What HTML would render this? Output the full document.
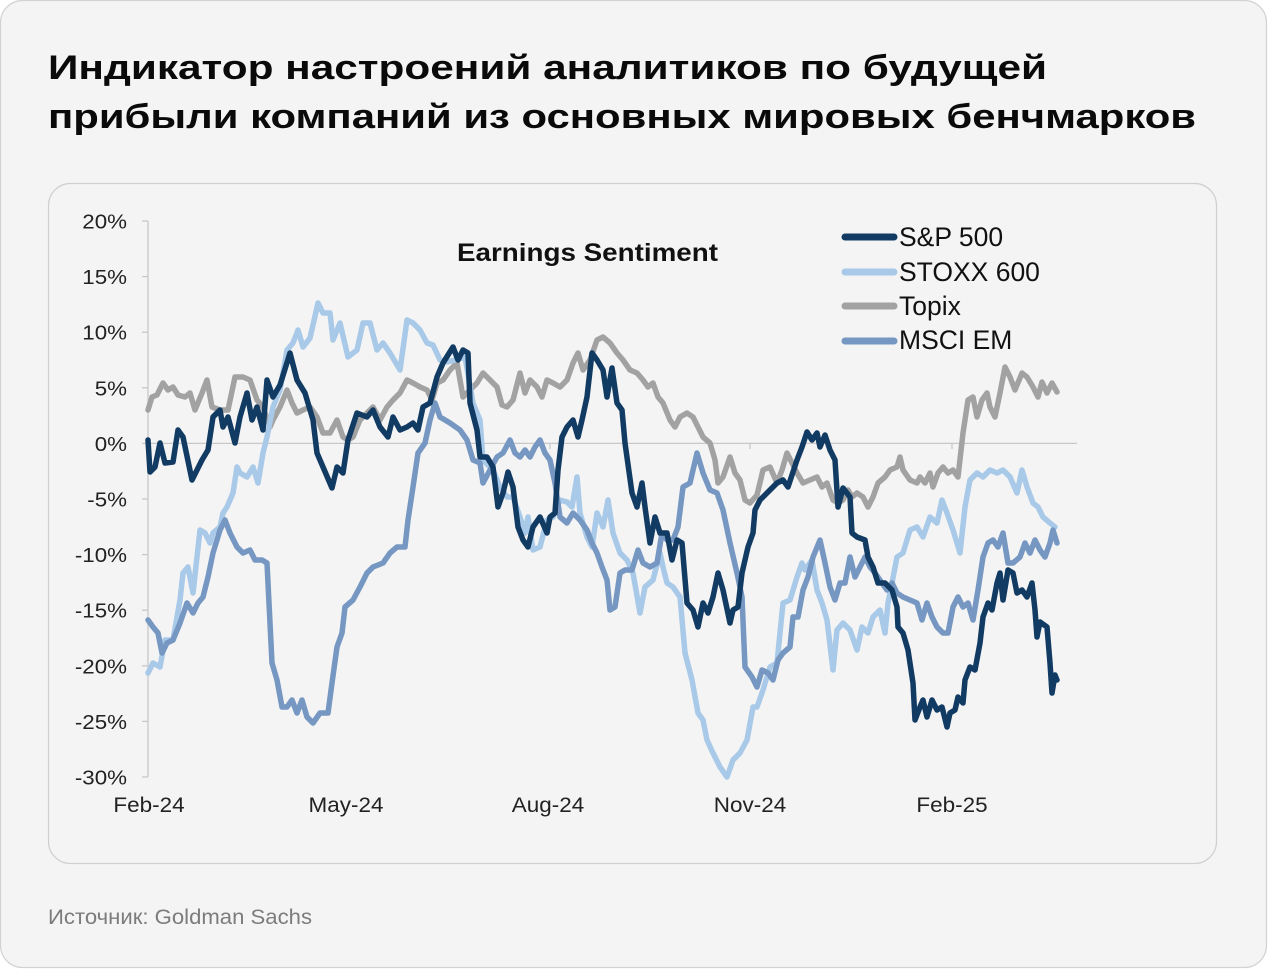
<!DOCTYPE html>
<html>
<head>
<meta charset="utf-8">
<style>
  html, body { margin: 0; padding: 0; background: #ffffff; }
  svg { display: block; }
  text { font-family: "Liberation Sans", "Noto Sans CJK SC", sans-serif; }
</style>
</head>
<body>
<svg width="1268" height="969" viewBox="0 0 1268 969" xmlns="http://www.w3.org/2000/svg">
  <!-- outer card -->
  <rect x="0.5" y="0.5" width="1266" height="967" rx="22" ry="22" fill="#f4f4f4" stroke="#d2d2d2" stroke-width="1.2"/>

  <!-- title -->
  <text x="48" y="79" font-size="34" font-weight="bold" fill="#0a0a0a" textLength="999" lengthAdjust="spacingAndGlyphs">Индикатор настроений аналитиков по будущей</text>
  <text x="48" y="128" font-size="34" font-weight="bold" fill="#0a0a0a" textLength="1148" lengthAdjust="spacingAndGlyphs">прибыли компаний из основных мировых бенчмарков</text>

  <!-- inner chart card -->
  <rect x="48.5" y="183.5" width="1168" height="680" rx="22" ry="22" fill="#f4f4f4" stroke="#cfcfcf" stroke-width="1.2"/>

  <!-- axes -->
  <g stroke="#c8c8c8" stroke-width="1.3" fill="none">
    <line x1="148" y1="221" x2="148" y2="777"/>
    <line x1="142" y1="221" x2="148" y2="221"/>
    <line x1="142" y1="276.6" x2="148" y2="276.6"/>
    <line x1="142" y1="332.2" x2="148" y2="332.2"/>
    <line x1="142" y1="387.8" x2="148" y2="387.8"/>
    <line x1="142" y1="443.4" x2="148" y2="443.4"/>
    <line x1="142" y1="499" x2="148" y2="499"/>
    <line x1="142" y1="554.6" x2="148" y2="554.6"/>
    <line x1="142" y1="610.2" x2="148" y2="610.2"/>
    <line x1="142" y1="665.8" x2="148" y2="665.8"/>
    <line x1="142" y1="721.4" x2="148" y2="721.4"/>
    <line x1="142" y1="777" x2="148" y2="777"/>
    <line x1="148" y1="443.4" x2="1077" y2="443.4"/>
    <line x1="349" y1="443.4" x2="349" y2="449"/>
    <line x1="550" y1="443.4" x2="550" y2="449"/>
    <line x1="750" y1="443.4" x2="750" y2="449"/>
    <line x1="952" y1="443.4" x2="952" y2="449"/>
  </g>

  <!-- y labels -->
  <g font-size="20.5" fill="#222" text-anchor="end">
    <g transform="translate(127,0) scale(1.09,1)">
      <text x="0" y="228.5">20%</text>
      <text x="0" y="284.1">15%</text>
      <text x="0" y="339.7">10%</text>
      <text x="0" y="395.3">5%</text>
      <text x="0" y="450.9">0%</text>
      <text x="0" y="506.5">-5%</text>
      <text x="0" y="562.1">-10%</text>
      <text x="0" y="617.7">-15%</text>
      <text x="0" y="673.3">-20%</text>
      <text x="0" y="728.9">-25%</text>
      <text x="0" y="784.5">-30%</text>
    </g>
  </g>

  <!-- x labels -->
  <g font-size="21" fill="#222" text-anchor="middle">
    <g transform="translate(149,812) scale(1.07,1)"><text x="0" y="0">Feb-24</text></g>
    <g transform="translate(346,812) scale(1.07,1)"><text x="0" y="0">May-24</text></g>
    <g transform="translate(548,812) scale(1.07,1)"><text x="0" y="0">Aug-24</text></g>
    <g transform="translate(750,812) scale(1.07,1)"><text x="0" y="0">Nov-24</text></g>
    <g transform="translate(952,812) scale(1.07,1)"><text x="0" y="0">Feb-25</text></g>
  </g>

  <!-- chart title -->
  <text x="457" y="261" font-size="25" font-weight="bold" fill="#111" textLength="261" lengthAdjust="spacingAndGlyphs">Earnings Sentiment</text>

  <!-- series -->
  <g fill="none" stroke-width="5.5" stroke-linejoin="round" stroke-linecap="round">
    <!-- Topix -->
    <polyline stroke="#a2a2a2" points="148,410 152,397 157,395 163,383 168,390 173,387 178,395 185,397 190,393 195,410 202,393 207,380 212,407 220,410 228,410 235,377 243,377 250,380 257,400 263,407 270,427 273,420 280,407 287,390 292,403 297,413 303,410 310,407 317,417 323,433 330,433 337,420 343,437 348,440 353,437 360,420 367,413 373,407 380,420 387,407 393,400 400,393 407,380 413,383 420,387 427,390 432,400 437,383 443,380 450,370 457,363 463,397 470,390 477,383 483,373 490,380 497,387 502,405 507,407 513,400 520,373 525,393 530,380 537,387 542,397 547,380 553,383 560,387 567,380 573,363 578,353 583,370 590,360 597,340 603,337 610,343 617,353 623,360 630,370 637,373 643,380 648,387 653,383 658,397 663,403 670,420 675,427 680,417 687,413 693,417 698,427 703,437 710,443 715,460 718,483 723,477 730,457 735,473 740,480 745,500 750,503 757,495 763,470 770,467 777,483 782,470 787,453 792,463 797,473 803,483 810,480 817,477 822,487 827,483 833,500 838,503 843,500 848,490 852,497 857,493 863,497 868,507 873,497 878,483 885,477 890,470 897,467 900,457 903,470 910,480 917,483 920,477 925,483 930,473 933,487 938,473 943,467 948,473 953,470 958,477 963,433 968,400 973,397 977,417 982,400 987,393 990,407 995,417 1000,393 1005,367 1010,377 1015,390 1022,373 1027,377 1033,387 1038,397 1042,382 1047,393 1052,383 1057,392"/>
    <!-- STOXX 600 -->
    <polyline stroke="#a9c9e8" points="148,673 153,663 160,667 165,640 173,640 180,600 183,573 188,567 193,593 200,530 205,533 210,543 213,533 220,527 223,513 227,507 233,493 237,467 240,473 247,477 253,467 258,483 263,453 267,437 273,407 280,390 287,350 293,343 298,330 303,347 310,338 318,303 323,313 330,313 333,340 340,323 348,357 357,350 363,323 370,323 377,350 383,343 390,353 400,370 407,320 413,323 420,330 427,343 433,345 440,360 447,362 455,360 465,357 473,403 480,420 483,460 493,470 500,487 507,497 513,497 520,517 525,533 528,517 533,550 540,547 547,520 553,517 560,500 567,502 572,507 577,477 580,513 587,537 592,547 597,513 603,527 608,500 613,533 620,553 627,560 633,573 640,613 645,587 653,580 660,553 663,567 667,583 673,587 680,597 685,653 692,680 698,713 703,720 707,740 713,753 720,767 727,777 733,760 740,753 747,740 753,707 757,707 763,690 770,667 777,663 783,603 790,600 797,577 802,563 805,570 812,560 817,590 822,603 827,620 833,670 837,630 843,623 850,630 857,650 862,627 868,633 873,617 880,610 885,633 888,603 892,583 897,557 903,553 910,530 917,527 923,537 930,517 937,523 942,500 947,513 953,530 960,553 965,507 970,480 977,473 983,477 990,470 997,473 1003,470 1010,477 1017,493 1022,470 1027,487 1033,503 1038,507 1043,517 1050,523 1055,527"/>
    <!-- MSCI EM -->
    <polyline stroke="#7597c1" points="148,620 153,627 158,633 162,653 167,643 173,640 180,623 187,603 193,613 198,603 203,597 208,577 213,553 220,530 225,520 230,533 237,547 243,553 250,550 255,560 262,560 267,563 272,663 277,680 282,707 287,707 292,700 297,713 302,700 307,717 313,723 320,713 328,713 332,683 337,647 342,633 345,607 353,600 360,587 367,573 373,567 383,563 390,553 397,547 405,547 408,520 413,487 418,453 425,443 430,420 435,403 440,417 450,423 460,430 467,440 473,460 480,463 483,483 490,470 497,457 503,453 510,440 515,453 520,457 525,450 530,457 535,447 540,440 545,453 550,460 555,483 560,517 567,523 573,513 580,520 587,530 592,543 597,553 602,567 607,580 610,610 615,607 620,573 625,570 632,570 638,550 643,563 650,567 657,563 662,533 667,540 673,540 678,527 683,487 690,483 697,453 703,473 710,490 717,493 723,510 730,543 737,573 742,597 745,667 752,677 757,687 762,670 768,673 773,680 778,660 783,653 790,647 793,617 798,617 803,590 808,577 813,557 820,540 825,563 830,587 835,600 840,583 845,583 850,557 855,577 860,567 865,557 870,567 875,573 882,583 887,590 892,583 897,593 903,597 910,600 917,603 922,620 927,603 932,617 937,627 943,633 948,633 953,607 958,597 963,607 968,603 973,620 978,590 983,557 988,543 993,540 998,547 1003,533 1008,563 1013,563 1020,557 1025,543 1030,553 1035,540 1040,550 1045,557 1050,543 1053,530 1057,543"/>
    <!-- S&P 500 -->
    <polyline stroke="#123b63" points="148,440 150,472 155,467 160,443 165,463 173,462 178,430 183,437 192,480 202,460 208,450 213,417 220,410 223,427 228,417 235,443 240,417 247,393 252,420 257,407 263,430 267,380 273,397 280,385 290,353 297,380 305,393 313,420 317,453 323,467 332,488 337,467 343,473 348,440 357,413 367,417 373,410 380,427 388,437 393,417 400,430 407,427 413,423 418,430 423,407 430,403 437,377 443,363 453,347 458,360 463,350 468,353 470,403 477,430 480,457 487,457 493,467 498,507 503,493 508,472 513,487 518,527 523,540 528,547 533,527 540,517 547,533 550,517 555,513 558,470 562,437 567,427 573,420 578,437 582,420 587,397 592,353 597,360 603,370 607,397 612,368 617,403 622,410 625,443 632,493 637,507 642,483 645,507 650,543 655,517 660,533 667,533 672,560 677,540 682,543 687,603 693,610 698,627 703,603 708,613 713,597 718,573 723,590 730,623 733,610 738,607 742,573 748,547 753,533 755,510 760,500 770,490 777,483 783,480 788,487 792,475 797,460 802,447 807,432 812,440 817,433 820,447 825,435 830,450 835,460 838,507 843,488 850,497 852,533 857,537 865,540 868,557 873,567 878,583 885,583 892,590 897,607 898,627 903,633 908,650 913,683 915,720 920,707 923,700 927,717 932,700 937,710 942,707 947,727 950,713 955,710 958,697 963,703 965,680 970,667 975,670 980,643 983,617 988,603 992,610 997,583 1000,573 1003,600 1008,570 1013,573 1017,593 1022,590 1027,597 1032,583 1035,610 1037,637 1040,622 1047,627 1050,663 1052,693 1055,675 1057,680"/>
  </g>

  <!-- legend -->
  <g stroke-width="7" stroke-linecap="round">
    <line x1="845" y1="237" x2="894" y2="237" stroke="#123b63"/>
    <line x1="845" y1="272" x2="894" y2="272" stroke="#a9c9e8"/>
    <line x1="845" y1="306" x2="894" y2="306" stroke="#a2a2a2"/>
    <line x1="845" y1="341" x2="894" y2="341" stroke="#7597c1"/>
  </g>
  <g font-size="26.5" fill="#111">
    <text x="899" y="246">S&amp;P 500</text>
    <text x="899" y="281">STOXX 600</text>
    <text x="899" y="315">Topix</text>
    <text x="899" y="349">MSCI EM</text>
  </g>

  <!-- source -->
  <text x="48" y="924" font-size="21" fill="#7c7c7c" textLength="264" lengthAdjust="spacingAndGlyphs">Источник: Goldman Sachs</text>
</svg>
</body>
</html>
